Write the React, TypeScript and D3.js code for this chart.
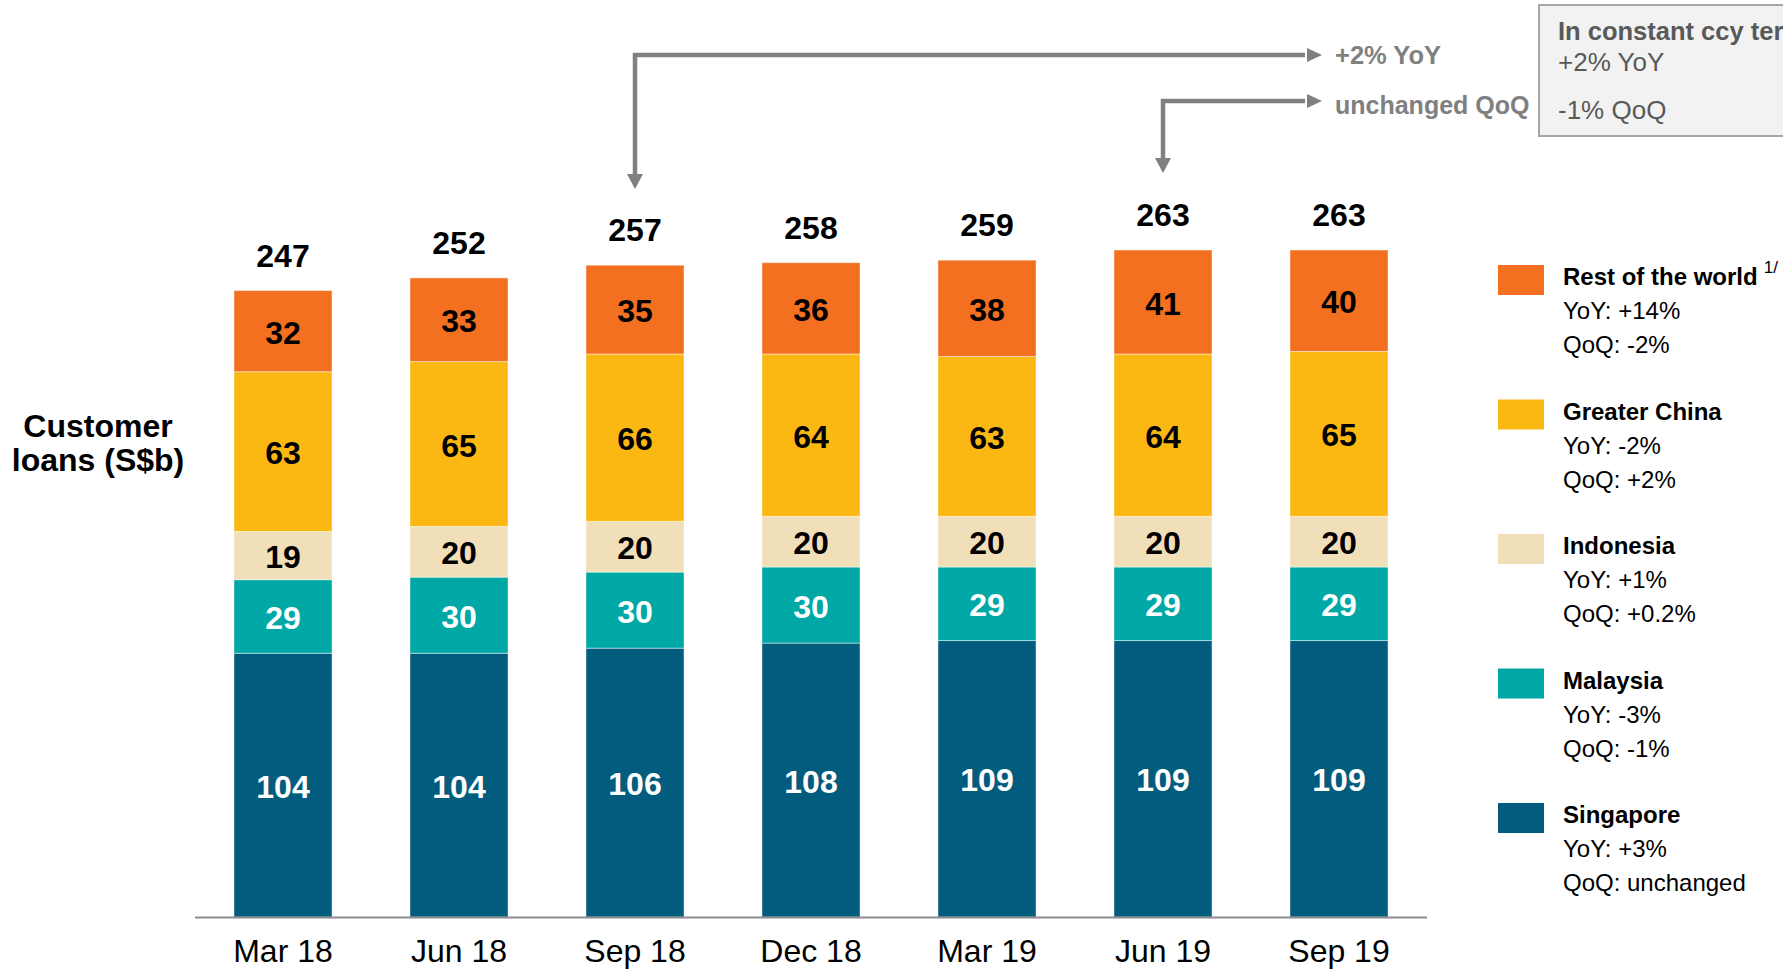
import React from 'react';
import * as d3 from 'd3';

// quarters on the x axis
const quarters = ['Mar 18', 'Jun 18', 'Sep 18', 'Dec 18', 'Mar 19', 'Jun 19', 'Sep 19'];

// customer loans by region, S$b (bottom to top of stack)
const singapore = [104, 104, 106, 108, 109, 109, 109];
const malaysia = [29, 30, 30, 30, 29, 29, 29];
const indonesia = [19, 20, 20, 20, 20, 20, 20];
const greaterChina = [63, 65, 66, 64, 63, 64, 65];
const restOfWorld = [32, 33, 35, 36, 38, 41, 40];
const totals = [247, 252, 257, 258, 259, 263, 263];

const regions = ['Singapore', 'Malaysia', 'Indonesia', 'Greater China', 'Rest of the world'];
const regionColors = ['#025C7E', '#00A8A5', '#F0DFB8', '#FBB813', '#F37021'];
const labelColors = ['#ffffff', '#ffffff', '#000000', '#000000', '#000000'];

// legend text, top to bottom
const legendNames = ['Rest of the world', 'Greater China', 'Indonesia', 'Malaysia', 'Singapore'];
const legendYoY = ['YoY: +14%', 'YoY: -2%', 'YoY: +1%', 'YoY: -3%', 'YoY: +3%'];
const legendQoQ = ['QoQ: -2%', 'QoQ: +2%', 'QoQ: +0.2%', 'QoQ: -1%', 'QoQ: unchanged'];
const legendColors = ['#F37021', '#FBB813', '#F0DFB8', '#00A8A5', '#025C7E'];

const FONT = '"Liberation Sans", Arial, Helvetica, sans-serif';
const GREY = '#808080';

const App: React.FC = () => {
    const width = 1783;
    const height = 969;
    const baseline = 917;

    const rows = quarters.map((q, i) => ({
        quarter: q,
        Singapore: singapore[i],
        Malaysia: malaysia[i],
        Indonesia: indonesia[i],
        'Greater China': greaterChina[i],
        'Rest of the world': restOfWorld[i],
    }));

    const stacked = d3.stack<any>().keys(regions)(rows);

    const x = d3.scaleBand<string>()
        .domain(quarters)
        .range([195, 1427])
        .paddingInner(0.443)
        .paddingOuter(0.2215);

    const y = d3.scaleLinear()
        .domain([0, 263])
        .range([baseline, 250]);

    const arrowHead = (tx: number, ty: number, dir: 'down' | 'right') => {
        if (dir === 'down') {
            return `M${tx - 8},${ty - 15} L${tx + 8},${ty - 15} L${tx},${ty} Z`;
        }
        return `M${tx - 15},${ty - 7} L${tx - 15},${ty + 7} L${tx},${ty} Z`;
    };

    const legendTop = d3.scaleLinear().domain([0, 4]).range([265, 803]);

    return (
        <div style={{ position: 'absolute', left: 0, top: 0 }}>
            <svg width={width} height={height} style={{ display: 'block', fontFamily: FONT }}>
                <rect width={width} height={height} fill="#ffffff" />

                {/* stacked bars */}
                {stacked.map((layer, li) => (
                    <g key={layer.key}>
                        {layer.map((d, i) => {
                            const bx = x(quarters[i])!;
                            const y0 = y(d[1]);
                            const y1 = y(d[0]);
                            return (
                                <g key={quarters[i]}>
                                    <rect x={bx} y={y0} width={x.bandwidth()} height={y1 - y0}
                                        fill={regionColors[li]} stroke="#ffffff" strokeOpacity={0.45} strokeWidth={1} />
                                    <text x={bx + x.bandwidth() / 2} y={(y0 + y1) / 2 + 1} dy="0.36em"
                                        textAnchor="middle" fontSize={32} fontWeight="bold" fill={labelColors[li]}>
                                        {d[1] - d[0]}
                                    </text>
                                </g>
                            );
                        })}
                    </g>
                ))}

                {/* totals */}
                {totals.map((t, i) => (
                    <text key={quarters[i]} x={x(quarters[i])! + x.bandwidth() / 2} y={y(t) - 24}
                        textAnchor="middle" fontSize={32} fontWeight="bold" fill="#000">
                        {t}
                    </text>
                ))}

                {/* x axis */}
                <line x1={195} x2={1427} y1={baseline + 0.5} y2={baseline + 0.5} stroke="#8c8c8c" strokeWidth={2} />
                {quarters.map(q => (
                    <text key={q} x={x(q)! + x.bandwidth() / 2} y={962} textAnchor="middle" fontSize={32} fill="#000">
                        {q}
                    </text>
                ))}

                {/* y title */}
                <text x={98} y={437} textAnchor="middle" fontSize={32} fontWeight="bold" fill="#000">Customer</text>
                <text x={98} y={471} textAnchor="middle" fontSize={32} fontWeight="bold" fill="#000">loans (S$b)</text>

                {/* YoY arrow */}
                <path d={`M1305,55 H${x('Sep 18')! + x.bandwidth() / 2} V175`} fill="none" stroke={GREY} strokeWidth={4.5} />
                <path d={arrowHead(x('Sep 18')! + x.bandwidth() / 2, 189, 'down')} fill={GREY} />
                <path d={arrowHead(1322, 55, 'right')} fill={GREY} />
                <text x={1335} y={64} fontSize={25.5} fontWeight="bold" fill={GREY}>+2% YoY</text>

                {/* QoQ arrow */}
                <path d={`M1305,101 H${x('Jun 19')! + x.bandwidth() / 2} V160`} fill="none" stroke={GREY} strokeWidth={4.5} />
                <path d={arrowHead(x('Jun 19')! + x.bandwidth() / 2, 173, 'down')} fill={GREY} />
                <path d={arrowHead(1322, 101, 'right')} fill={GREY} />
                <text x={1335} y={114} fontSize={25} fontWeight="bold" fill={GREY}>unchanged QoQ</text>

                {/* constant currency box */}
                <rect x={1539} y={5} width={260} height={131} fill="#F2F2F2" stroke="#A6A6A6" strokeWidth={2} />
                <text x={1558} y={40} fontSize={25.5} fontWeight="bold" fill="#595959">In constant ccy terms</text>
                <text x={1558} y={71} fontSize={26} fill="#595959">+2% YoY</text>
                <text x={1558} y={119} fontSize={26} fill="#595959">-1% QoQ</text>

                {/* legend */}
                {legendNames.map((name, i) => {
                    const top = legendTop(i);
                    return (
                        <g key={name}>
                            <rect x={1498} y={top} width={46} height={30} fill={legendColors[i]} />
                            <text x={1563} y={top + 20} fontSize={24} fontWeight="bold" fill="#000">
                                {name}
                                {i === 0 ? (
                                    <tspan dx={6} dy={-12} fontSize={17} fontWeight="normal">1/</tspan>
                                ) : null}
                            </text>
                            <text x={1563} y={top + 54} fontSize={24} fill="#000">{legendYoY[i]}</text>
                            <text x={1563} y={top + 88} fontSize={24} fill="#000">{legendQoQ[i]}</text>
                        </g>
                    );
                })}
            </svg>
        </div>
    );
};

export default App;
